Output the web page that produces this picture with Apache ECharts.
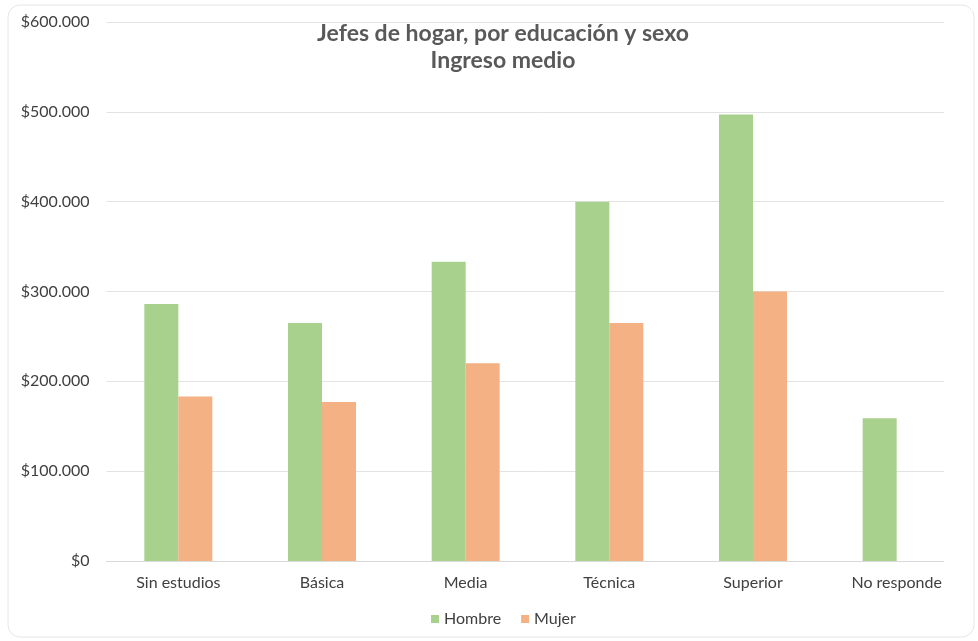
<!DOCTYPE html>
<html>
<head>
<meta charset="utf-8">
<script src="https://cdn.jsdelivr.net/npm/echarts@6/dist/echarts.min.js"></script>
<style>
html,body{margin:0;padding:0;background:#fff;}
#c{width:978px;height:641px;}
</style>
</head>
<body>
<div id="c"></div>
<script>
var categories = ['Sin estudios', 'Básica', 'Media', 'Técnica', 'Superior', 'No responde'];
var hombre = [286000, 265000, 333000, 400000, 497000, 159000];
var mujer = [183000, 177000, 220000, 265000, 300000, null];
var titleLines = ['Jefes de hogar, por educación y sexo', 'Ingreso medio'];
var seriesNames = ['Hombre', 'Mujer'];

function fmt(v) {
  var s = String(Math.round(v));
  return '$' + s.replace(/\B(?=(\d{3})+(?!\d))/g, '.');
}

var chart = echarts.init(document.getElementById('c'), null, {renderer: 'canvas'});
chart.setOption({
  backgroundColor: '#ffffff',
  animation: false,
  title: {
    text: titleLines.join('\n'),
    left: 498,
    top: 15,
    textAlign: 'center',
    textStyle: {
      fontFamily: 'Lato',
      fontWeight: 'bold',
      fontSize: 23,
      color: '#595959',
      lineHeight: 27
    }
  },
  legend: {
    data: seriesNames,
    left: 426,
    top: 606,
    itemWidth: 8,
    itemHeight: 8,
    itemGap: 20,
    icon: 'rect',
    textStyle: {fontFamily: 'Lato', fontSize: 16, color: '#404040'}
  },
  grid: {left: 106.5, right: 9.5, top: 22, bottom: 80, containLabel: false},
  xAxis: {
    type: 'category',
    data: categories,
    axisLine: {show: true, lineStyle: {color: '#d9d9d9', width: 1}},
    axisTick: {show: false},
    axisLabel: {fontFamily: 'Lato', fontSize: 16, color: '#404040', margin: 14, interval: 0}
  },
  yAxis: {
    type: 'value',
    min: 0,
    max: 600000,
    interval: 100000,
    axisLine: {show: false},
    axisTick: {show: false},
    splitLine: {lineStyle: {color: '#e3e3e3', width: 1}},
    axisLabel: {fontFamily: 'Lato', fontSize: 16, color: '#404040', margin: 17, formatter: fmt}
  },
  series: [
    {name: seriesNames[0], type: 'bar', data: hombre, barWidth: 34, barGap: '0%', itemStyle: {color: '#a9d18e'}},
    {name: seriesNames[1], type: 'bar', data: mujer, barWidth: 34, barGap: '0%', itemStyle: {color: '#f4b183'}}
  ],
  graphic: [
    {type: 'rect', z: 1, shape: {x: 944, y: 10, width: 28, height: 560}, style: {fill: '#ffffff'}},
    {type: 'rect', z: 0, silent: true, shape: {x: 8, y: 5, width: 966, height: 632, r: 12}, style: {fill: 'none', stroke: '#e6e6e6', lineWidth: 1}}
  ]
});
</script>
</body>
</html>
